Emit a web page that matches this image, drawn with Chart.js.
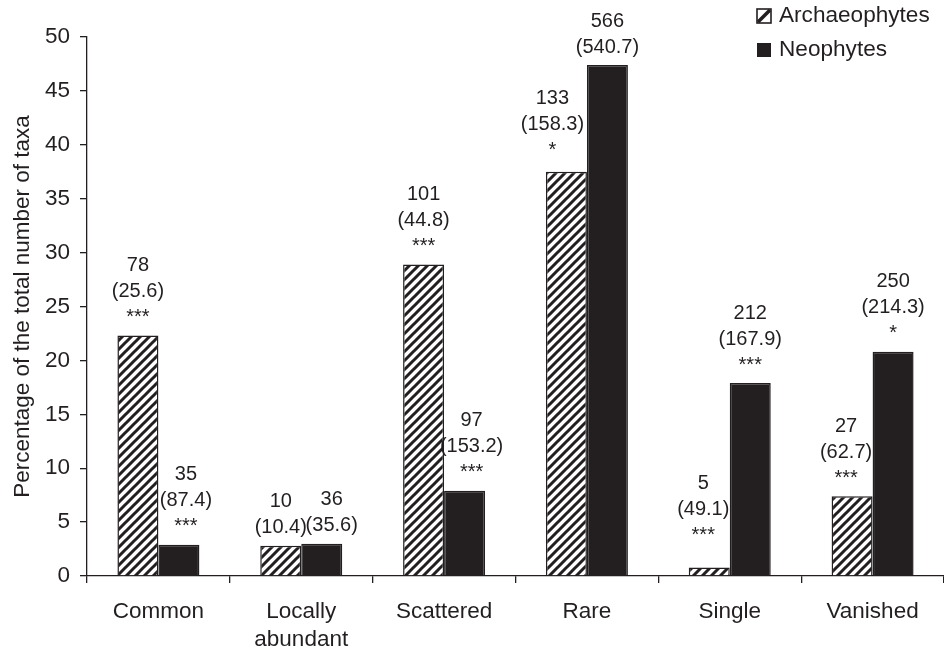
<!DOCTYPE html>
<html>
<head>
<meta charset="utf-8">
<script src="https://cdn.jsdelivr.net/npm/chart.js@4"></script>
<style>
  html, body { margin: 0; padding: 0; background: #ffffff; }
  #wrap { width: 944px; height: 650px; position: relative; }
</style>
</head>
<body>
<div id="wrap"><canvas id="c"></canvas></div>
<script>
// ---- data ----
const categories = [['Common'], ['Locally', 'abundant'], ['Scattered'], ['Rare'], ['Single'], ['Vanished']];
const seriesNames = ['Archaeophytes', 'Neophytes'];
const archaeophytes = [22.3, 2.8, 28.9, 37.5, 0.8, 7.4];
const neophytes = [2.9, 3.0, 7.9, 47.4, 17.9, 20.8];
const archCounts = ['78', '10', '101', '133', '5', '27'];
const archExpected = ['(25.6)', '(10.4)', '(44.8)', '(158.3)', '(49.1)', '(62.7)'];
const archSig = ['***', '', '***', '*', '***', '***'];
const neoCounts = ['35', '36', '97', '566', '212', '250'];
const neoExpected = ['(87.4)', '(35.6)', '(153.2)', '(540.7)', '(167.9)', '(214.3)'];
const neoSig = ['***', '', '***', '', '***', '*'];
const yMin = 0, yMax = 50, yStep = 5;
const yTitle = 'Percentage of the total number of taxa';

// ---- layout / style (not data) ----
const INK = '#231f20';
const FONT = 'Liberation Sans, Arial, Helvetica, sans-serif';
const archLabelDx = [0, 0, 0, -14, -6, -6];
const neoLabelDx = [7, 10, 7, 0, 0, 0];
const archLabelLift = [0, 0, 0, 3, 14, 0];
const neoLabelLift = [0, 0, 0, 0, 0, 0];

function makeHatch() {
  const s = 9;
  const c = document.createElement('canvas');
  c.width = s; c.height = s;
  const g = c.getContext('2d');
  g.fillStyle = '#ffffff';
  g.fillRect(0, 0, s, s);
  g.strokeStyle = INK;
  g.lineWidth = 3;
  g.lineCap = 'square';
  g.beginPath();
  g.moveTo(-1, s + 1); g.lineTo(s + 1, -1);
  g.moveTo(-2, 2); g.lineTo(2, -2);
  g.moveTo(s - 2, s + 2); g.lineTo(s + 2, s - 2);
  g.stroke();
  return g.createPattern(c, 'repeat');
}
const hatch = makeHatch();

const annotatePlugin = {
  id: 'annotate',
  afterDatasetsDraw(chart) {
    const ctx = chart.ctx;
    ctx.save();
    ctx.fillStyle = INK;
    ctx.textAlign = 'center';
    ctx.textBaseline = 'middle';
    ctx.font = '20px ' + FONT;
    const sets = [
      [archCounts, archExpected, archSig, archLabelDx, archLabelLift],
      [neoCounts, neoExpected, neoSig, neoLabelDx, neoLabelLift]
    ];
    sets.forEach((s, di) => {
      const meta = chart.getDatasetMeta(di);
      meta.data.forEach((bar, j) => {
        const lines = [s[0][j], s[1][j]];
        if (s[2][j]) lines.push(s[2][j]);
        const n = lines.length;
        const x = bar.x + s[3][j];
        const base = bar.y - 18 - s[4][j];
        lines.forEach((t, k) => {
          ctx.fillText(t, x, base - (n - 1 - k) * 26);
        });
      });
    });
    ctx.restore();
  }
};

const legendPlugin = {
  id: 'customLegend',
  afterDraw(chart) {
    const ctx = chart.ctx;
    ctx.save();
    const bx = 757, size = 14;
    const rows = [16, 50];
    let y0 = rows[0] - size / 2;
    ctx.fillStyle = '#ffffff';
    ctx.fillRect(bx, y0, size, size);
    ctx.strokeStyle = INK;
    ctx.lineWidth = 1.6;
    ctx.strokeRect(bx, y0, size, size);
    ctx.lineWidth = 3.5;
    ctx.beginPath();
    ctx.moveTo(bx + 1, y0 + size - 1);
    ctx.lineTo(bx + size - 1, y0 + 1);
    ctx.stroke();
    y0 = rows[1] - size / 2;
    ctx.fillStyle = INK;
    ctx.fillRect(bx, y0, size, size);
    ctx.font = '22.6px ' + FONT;
    ctx.textAlign = 'left';
    ctx.textBaseline = 'middle';
    ctx.fillText(seriesNames[0], 779, rows[0]);
    ctx.fillText(seriesNames[1], 779, rows[1]);
    ctx.restore();
  }
};

new Chart(document.getElementById('c'), {
  type: 'bar',
  data: {
    labels: categories,
    datasets: [
      { label: seriesNames[0], data: archaeophytes, backgroundColor: hatch, borderColor: INK, borderWidth: 1.5 },
      { label: seriesNames[1], data: neophytes, backgroundColor: INK, borderColor: INK, borderWidth: 1.5 }
    ]
  },
  options: {
    responsive: true,
    maintainAspectRatio: false,
    devicePixelRatio: 1,
    animation: false,
    layout: { padding: { top: 37, right: 0, left: 0, bottom: 0 } },
    datasets: { bar: { categoryPercentage: 0.574, barPercentage: 1.0 } },
    plugins: { legend: { display: false }, tooltip: { enabled: false } },
    scales: {
      x: {
        afterFit(scale) { scale.height = 74; },
        grid: { display: true, drawOnChartArea: false, drawTicks: true, tickLength: 7, color: INK, lineWidth: 1.3, offset: true },
        border: { display: true, color: INK, width: 1.3 },
        ticks: { color: INK, font: { family: FONT, size: 22.5, lineHeight: 1.25 }, padding: 15, maxRotation: 0, autoSkip: false }
      },
      y: {
        min: yMin, max: yMax,
        afterFit(scale) { scale.width = 87; },
        grid: { display: true, drawOnChartArea: false, drawTicks: true, tickLength: 7, color: INK, lineWidth: 1.3 },
        border: { display: true, color: INK, width: 1.3 },
        ticks: { stepSize: yStep, color: INK, font: { family: FONT, size: 22.5 }, padding: 10 },
        title: { display: true, text: yTitle, color: INK, font: { family: FONT, size: 22.5 }, padding: { top: 9, bottom: 0 } }
      }
    }
  },
  plugins: [annotatePlugin, legendPlugin]
});
</script>
</body>
</html>
